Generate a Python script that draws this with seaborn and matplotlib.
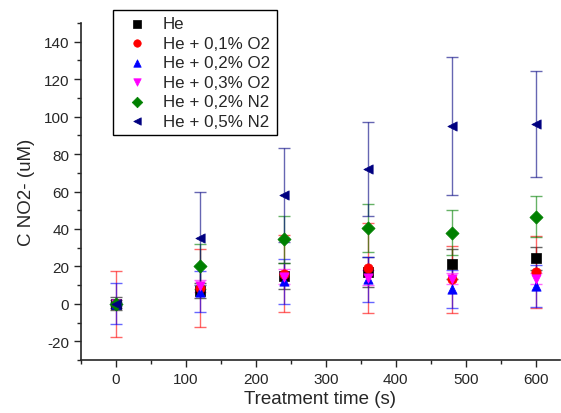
import matplotlib
matplotlib.use("Agg")
import matplotlib.pyplot as plt
import seaborn as sns
import pandas as pd
from matplotlib.ticker import MultipleLocator

times = [0, 120, 240, 360, 480, 600]
labels = ["He", "He + 0,1% O2", "He + 0,2% O2", "He + 0,3% O2", "He + 0,2% N2", "He + 0,5% N2"]
he = [0, 7, 15, 17, 21.5, 24.3]
he_err = [3.5, 4, 7, 8, 8, 6]
o2_01 = [0, 8.5, 16, 19, 13, 17]
o2_01_err = [17.5, 21, 20.5, 24, 18, 19]
o2_02 = [0, 6.5, 12, 13, 8, 9.5]
o2_02_err = [11, 11, 12, 12, 10, 11]
o2_03 = [0, 9.5, 14.5, 14, 13.5, 13.5]
o2_03_err = [2, 3, 4, 4, 3, 3]
n2_02 = [0, 20, 34.5, 40.5, 38, 46.5]
n2_02_err = [2, 12, 12.5, 12.7, 12, 11]
n2_05 = [0, 35, 58, 72, 95, 96]
n2_05_err = [1, 25, 25, 25, 37, 28.5]

series = [he, o2_01, o2_02, o2_03, n2_02, n2_05]
errors = [he_err, o2_01_err, o2_02_err, o2_03_err, n2_02_err, n2_05_err]
colors = ["black", "red", "blue", "magenta", "green", "#000080"]
markers = ["s", "o", "^", "v", "D", "<"]

sns.set_style("ticks")
plt.rcParams["font.family"] = ["Liberation Sans", "DejaVu Sans"]
plt.rcParams["axes.unicode_minus"] = False

fig = plt.figure(figsize=(5.61, 4.14), dpi=100)
ax = fig.add_axes([81/561, 1-361/414, (560-81)/561, (361-24)/414])

for vals, errs, col, mk, lab in zip(series, errors, colors, markers, labels):
    ax.errorbar(times, vals, yerr=errs, fmt="none", ecolor=col, elinewidth=1.0,
                capsize=4, capthick=1.0, alpha=0.6, zorder=2)
for vals, errs, col, mk, lab in zip(series, errors, colors, markers, labels):
    df = pd.DataFrame({"t": times, "c": vals})
    sns.scatterplot(data=df, x="t", y="c", marker=mk, color=col, s=45,
                    edgecolor=col, linewidth=0.5, label=lab, ax=ax, zorder=3)

ax.set_xlim(-50, 635)
ax.set_ylim(-30, 150)
ax.xaxis.set_major_locator(MultipleLocator(100))
ax.xaxis.set_minor_locator(MultipleLocator(50))
ax.yaxis.set_major_locator(MultipleLocator(20))
ax.yaxis.set_minor_locator(MultipleLocator(10))
ax.tick_params(which="major", length=5, width=1, labelsize=11, direction="out")
ax.tick_params(which="minor", length=3, width=1, direction="out")
for s in ["top", "right"]:
    ax.spines[s].set_visible(False)
for s in ["left", "bottom"]:
    ax.spines[s].set_linewidth(1.2)

ax.set_xlabel("Treatment time (s)", fontsize=13.5, labelpad=3)
ax.set_ylabel("C NO2- (uM)", fontsize=13.5, labelpad=6)

leg = ax.legend(loc="upper left", bbox_to_anchor=(112.7/561, 1-10.7/414),
                bbox_transform=fig.transFigure, fontsize=12.2, frameon=True,
                fancybox=False, edgecolor="black", framealpha=1,
                labelspacing=0.26, handletextpad=0.45, borderpad=0.4,
                handlelength=2.1, borderaxespad=0, markerscale=0.8)
leg.get_frame().set_linewidth(1.0)

fig.savefig("out.png", dpi=100)
